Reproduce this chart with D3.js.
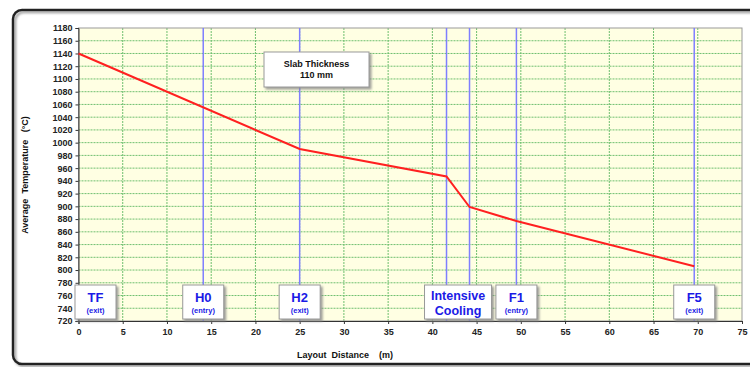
<!DOCTYPE html>
<html>
<head>
<meta charset="utf-8">
<script src="https://cdn.jsdelivr.net/npm/d3@7"></script>
<style>
body{margin:0;background:#fff;}
text{font-family:Arial,"Liberation Sans",sans-serif;font-weight:bold;}
</style>
</head>
<body>
<div id="chart"></div>
<script>
// temperature profile along the line
var distance=[0,25,41.6,44.2,49.5,69.6];
var temperature=[1140,990,947,899,877,806];

// mill stands / zones
var markerPos=[0,14.1,25,41.6,44.2,49.5,69.6];
var labelPos=[0,14.1,25,42.9,49.5,69.6];
var labelMain=[["TF"],["H0"],["H2"],["Intensive","Cooling"],["F1"],["F5"]];
var labelSub=["(exit)","(entry)","(exit)","","(entry)","(exit)"];

var xTicks=d3.range(0,76,5);
var yTicks=d3.range(720,1181,20);

var W=750,H=367;
var svg=d3.select("#chart").append("svg").attr("width",W).attr("height",H);

var defs=svg.append("defs");
var f=defs.append("filter").attr("id","sh").attr("x","-10%").attr("y","-10%").attr("width","130%").attr("height","140%");
f.append("feDropShadow").attr("dx",2).attr("dy",2).attr("stdDeviation",0.8).attr("flood-color","#888").attr("flood-opacity",0.8);

// outer frame
svg.append("rect").attr("x",13).attr("y",10).attr("width",760).attr("height",354)
  .attr("rx",9).attr("fill","none").attr("stroke","#222").attr("stroke-width",2.5)
  .attr("filter","url(#sh)");

var pL=78.5,pR=742,pT=28,pB=321;
var x=d3.scaleLinear().domain([0,75]).range([pL,pR]);
var y=d3.scaleLinear().domain([720,1180]).range([pB,pT]);

svg.append("rect").attr("x",pL).attr("y",pT).attr("width",pR-pL).attr("height",pB-pT)
  .attr("fill","#ffffe3");

var grid=svg.append("g");
grid.selectAll(".gy").data(yTicks.slice(1,-1)).enter().append("line")
  .attr("x1",pL).attr("x2",pR).attr("y1",d=>y(d)).attr("y2",d=>y(d))
  .attr("stroke","#6fbf6f").attr("stroke-width",1).attr("stroke-dasharray","2,1");
grid.selectAll(".gx").data(xTicks.slice(1,-1)).enter().append("line")
  .attr("y1",pT).attr("y2",pB).attr("x1",d=>x(d)).attr("x2",d=>x(d))
  .attr("stroke","#6fbf6f").attr("stroke-width",1).attr("stroke-dasharray","2,1");

svg.append("rect").attr("x",pL).attr("y",pT).attr("width",pR-pL).attr("height",pB-pT)
  .attr("fill","none").attr("stroke","#999").attr("stroke-width",1);

// zone markers
svg.append("g").selectAll("line").data(markerPos.slice(1)).enter().append("line")
  .attr("x1",d=>x(d)).attr("x2",d=>x(d)).attr("y1",pT).attr("y2",pB)
  .attr("stroke","#7f7fff").attr("stroke-width",1.5);

// axes
var yAxis=svg.append("g").attr("transform","translate("+pL+",0)")
  .call(d3.axisLeft(y).tickValues(yTicks).tickFormat(d3.format("d")).tickSize(3).tickPadding(3));
var xAxis=svg.append("g").attr("transform","translate(0,"+pB+")")
  .call(d3.axisBottom(x).tickValues(xTicks).tickFormat(d3.format("d")).tickSize(3).tickPadding(5));
[yAxis,xAxis].forEach(function(a){
  a.select(".domain").attr("stroke","#333");
  a.selectAll(".tick line").attr("stroke","#333");
  a.selectAll("text").attr("fill","#222").style("font-size","9px").style("font-weight","bold");
});

// temperature line
var line=d3.line().x(function(d,i){return x(distance[i]);}).y(function(d){return y(d);});
svg.append("path").datum(temperature).attr("d",line)
  .attr("fill","none").attr("stroke","#ff2020").attr("stroke-width",2);

// zone labels
var lab=svg.append("g").selectAll("g").data(labelPos).enter().append("g")
  .attr("transform",function(d){return "translate("+x(d)+",0)";});
lab.each(function(d,i){
  var g=d3.select(this);
  var wide=labelMain[i].length>1;
  var w=wide?67:41;
  var cx=0;
  if(i==0){ cx=w/2-3.5; }
  g.append("rect").attr("x",cx-w/2).attr("y",285).attr("width",w).attr("height",34)
    .attr("fill","#fff").attr("stroke","#999").attr("stroke-width",1).attr("filter","url(#sh)");
  if(wide){
    labelMain[i].forEach(function(t,j){
      g.append("text").attr("x",cx).attr("y",300+j*15).attr("text-anchor","middle")
        .attr("fill","#1a1ae6").style("font-size","12.5px").text(t);
    });
  } else {
    g.append("text").attr("x",cx).attr("y",302).attr("text-anchor","middle")
      .attr("fill","#1a1ae6").style("font-size","13px").text(labelMain[i][0]);
    g.append("text").attr("x",cx).attr("y",313).attr("text-anchor","middle")
      .attr("fill","#1a1ae6").style("font-size","7.5px").text(labelSub[i]);
  }
});

// slab thickness note
var note=svg.append("g");
note.append("rect").attr("x",264).attr("y",52).attr("width",105).attr("height",35)
  .attr("fill","#fff").attr("stroke","#999").attr("filter","url(#sh)");
note.append("text").attr("x",316.5).attr("y",67).attr("text-anchor","middle")
  .style("font-size","9px").attr("fill","#111").text("Slab Thickness");
note.append("text").attr("x",316.5).attr("y",78).attr("text-anchor","middle")
  .style("font-size","9px").attr("fill","#111").text("110  mm");

// axis titles
svg.append("text").attr("transform","translate(28,175) rotate(-90)").attr("text-anchor","middle")
  .style("font-size","9px").attr("fill","#111").attr("xml:space","preserve").text("Average  Temperature   (°C)");
svg.append("text").attr("x",345).attr("y",358).attr("text-anchor","middle")
  .style("font-size","9px").attr("fill","#111").attr("xml:space","preserve").text("Layout  Distance    (m)");
</script>
</body>
</html>
